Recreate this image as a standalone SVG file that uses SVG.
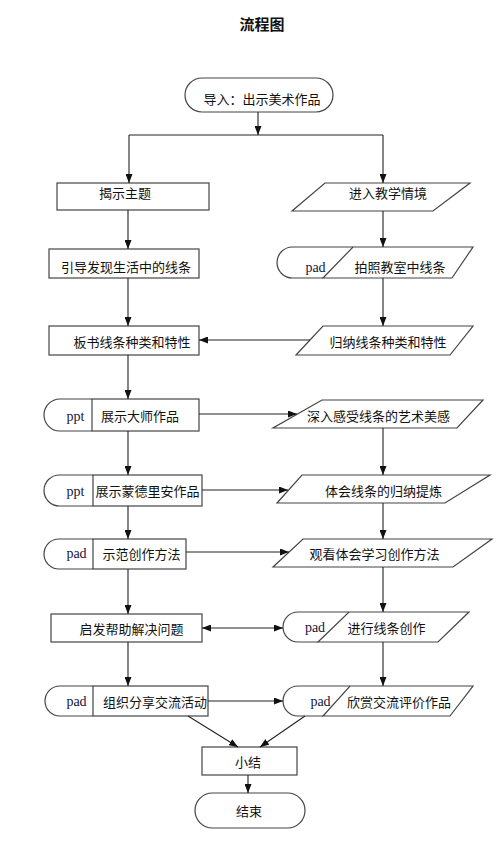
<svg xmlns="http://www.w3.org/2000/svg" width="501" height="856" viewBox="0 0 501 856">
<defs>
<marker id="ah" viewBox="0 0 10 10" refX="10" refY="5" markerWidth="9" markerHeight="7" markerUnits="userSpaceOnUse" orient="auto-start-reverse" preserveAspectRatio="none">
<path d="M0,0 L10,5 L0,10 Z" fill="#111"/>
</marker>
<style>
.s{fill:#fff;stroke:#444;stroke-width:1.2}
.p{fill:none;stroke:#444;stroke-width:1.2}
.t{font-family:"Noto Sans CJK SC","Noto Sans",sans-serif;font-size:13px;fill:#111;text-anchor:middle;dominant-baseline:central}
.e{font-family:"Liberation Serif",serif;font-size:14px;fill:#141438;text-anchor:middle;dominant-baseline:central}
.c line{stroke:#222;stroke-width:1.1;fill:none}
.a{marker-end:url(#ah)}
</style>
</defs>
<rect width="501" height="856" fill="#fff"/>
<text x="262" y="23" class="t" style="font-weight:bold;font-size:15px">流程图</text>

<g id="start">
<rect x="185" y="78" width="148" height="34" rx="17" class="s"/>
<text x="262" y="98" class="t">导入：出示美术作品</text>
</g>
<g id="n-reveal">
<rect x="57" y="183" width="152" height="27" class="s"/>
<text x="125" y="192" class="t">揭示主题</text>
</g>
<g id="n-guide">
<rect x="49" y="249" width="150" height="29" class="s"/>
<text x="126" y="266" class="t">引导发现生活中的线条</text>
</g>
<g id="n-board">
<rect x="49" y="326" width="150" height="29" class="s"/>
<text x="132" y="341" class="t">板书线条种类和特性</text>
</g>
<g id="n-enter">
<polygon points="325,183 470,183 433,211 292,211" class="s"/>
<text x="388" y="192" class="t">进入教学情境</text>
</g>
<g id="n-photo">
<path d="M353,247 H292.5 A15.5,15.5 0 0 0 292.5,278 H323" class="p"/>
<polygon points="353,247 473,247 452,278 323,278" class="s"/>
<text x="315.5" y="267" class="e">pad</text>
<text x="400" y="266" class="t">拍照教室中线条</text>
</g>
<g id="n-summarize">
<polygon points="323,326 473,326 450,355 296,355" class="s"/>
<text x="388" y="341" class="t">归纳线条种类和特性</text>
</g>
<g id="n-master">
<path d="M92,399 H60 A16,16 0 0 0 60,431 H92" class="p"/>
<rect x="92" y="399" width="107" height="32" class="s"/>
<text x="75.5" y="416" class="e">ppt</text>
<text x="140" y="415" class="t">展示大师作品</text>
</g>
<g id="n-feel">
<polygon points="322,400 483,400 457,428 273,428" class="s"/>
<text x="378.5" y="415" class="t">深入感受线条的艺术美感</text>
</g>
<g id="n-mondrian">
<path d="M93,475 H59.5 A15.5,15.5 0 0 0 59.5,506 H93" class="p"/>
<rect x="93" y="475" width="109" height="31" class="s"/>
<text x="75.5" y="491" class="e">ppt</text>
<text x="147.5" y="490" class="t">展示蒙德里安作品</text>
</g>
<g id="n-experience">
<polygon points="302,475 490,475 445,503 277,503" class="s"/>
<text x="383.5" y="490" class="t">体会线条的归纳提炼</text>
</g>
<g id="n-demo">
<path d="M93,539 H59 A15,15 0 0 0 59,569 H93" class="p"/>
<rect x="93" y="539" width="93" height="30" class="s"/>
<text x="76.5" y="553" class="e">pad</text>
<text x="141.5" y="553" class="t">示范创作方法</text>
</g>
<g id="n-watch">
<polygon points="303,539 492,539 453,567 273,567" class="s"/>
<text x="374.5" y="553" class="t">观看体会学习创作方法</text>
</g>
<g id="n-help">
<rect x="51" y="614" width="151" height="28" class="s"/>
<text x="131.5" y="628" class="t">启发帮助解决问题</text>
</g>
<g id="n-create">
<path d="M349,612 H298 A15,15 0 0 0 298,642 H318" class="p"/>
<polygon points="349,612 469,612 438,642 318,642" class="s"/>
<text x="315" y="627" class="e">pad</text>
<text x="386.5" y="627" class="t">进行线条创作</text>
</g>
<g id="n-share">
<path d="M93,686 H60 A15,15 0 0 0 60,716 H93" class="p"/>
<rect x="93" y="686" width="115" height="30" class="s"/>
<text x="76.5" y="701" class="e">pad</text>
<text x="155" y="701" class="t">组织分享交流活动</text>
</g>
<g id="n-appreciate">
<path d="M350,686 H298 A15,15 0 0 0 298,716 H323" class="p"/>
<polygon points="350,686 473,686 450,716 323,716" class="s"/>
<text x="320.5" y="701" class="e">pad</text>
<text x="399" y="701" class="t">欣赏交流评价作品</text>
</g>
<g id="n-summary">
<rect x="202" y="747" width="95" height="28" class="s"/>
<text x="248" y="761" class="t">小结</text>
</g>
<g id="end">
<rect x="195" y="793" width="110" height="35" rx="17.5" class="s"/>
<text x="249" y="810" class="t">结束</text>
</g>

<g class="c">
<line x1="258" y1="112" x2="258" y2="135" class="a"/>
<line x1="129" y1="135" x2="383" y2="135"/>
<line x1="129" y1="135" x2="129" y2="183" class="a"/>
<line x1="383" y1="135" x2="383" y2="183" class="a"/>
<line x1="128" y1="210" x2="128" y2="249" class="a"/>
<line x1="128" y1="278" x2="128" y2="326" class="a"/>
<line x1="383" y1="211" x2="383" y2="247" class="a"/>
<line x1="383" y1="278" x2="383" y2="326" class="a"/>
<line x1="310" y1="340" x2="199" y2="340" class="a"/>
<line x1="128" y1="355" x2="128" y2="399" class="a"/>
<line x1="199" y1="414" x2="297" y2="414" class="a"/>
<line x1="383" y1="428" x2="383" y2="475" class="a"/>
<line x1="128" y1="431" x2="128" y2="475" class="a"/>
<line x1="202" y1="490" x2="288" y2="490" class="a"/>
<line x1="128" y1="506" x2="128" y2="539" class="a"/>
<line x1="383" y1="503" x2="383" y2="539" class="a"/>
<line x1="186" y1="552" x2="289" y2="552" class="a"/>
<line x1="128" y1="569" x2="128" y2="614" class="a"/>
<line x1="383" y1="567" x2="383" y2="612" class="a"/>
<line x1="202" y1="628" x2="283" y2="628" class="a" marker-start="url(#ah)"/>
<line x1="128" y1="642" x2="128" y2="686" class="a"/>
<line x1="383" y1="642" x2="383" y2="686" class="a"/>
<line x1="208" y1="701" x2="283" y2="701" class="a"/>
<line x1="188" y1="716" x2="238" y2="747" class="a"/>
<line x1="305" y1="716" x2="260" y2="747" class="a"/>
<line x1="248" y1="775" x2="248" y2="793" class="a"/>
</g>
</svg>
